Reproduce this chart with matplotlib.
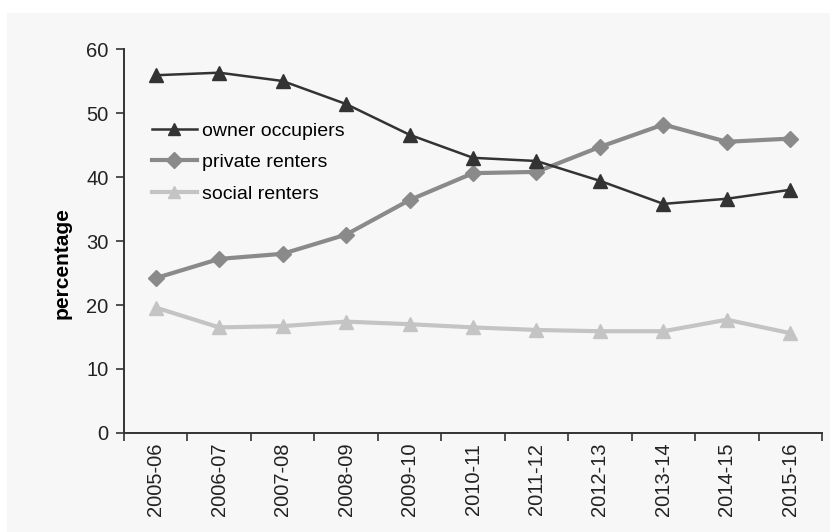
import matplotlib
matplotlib.use("Agg")
import matplotlib.pyplot as plt
from matplotlib.patches import Rectangle

# data
years = ["2005-06", "2006-07", "2007-08", "2008-09", "2009-10", "2010-11",
         "2011-12", "2012-13", "2013-14", "2014-15", "2015-16"]
owner_occupiers = [55.9, 56.3, 55.0, 51.4, 46.6, 43.0, 42.5, 39.4, 35.8, 36.6, 38.0]
private_renters = [24.2, 27.2, 28.0, 31.0, 36.4, 40.6, 40.8, 44.7, 48.2, 45.5, 46.0]
social_renters = [19.6, 16.5, 16.7, 17.4, 17.0, 16.5, 16.1, 15.9, 15.9, 17.7, 15.6]
y_ticks = [0, 10, 20, 30, 40, 50, 60]

plt.rcParams["font.family"] = ["Liberation Sans", "DejaVu Sans"]

fig = plt.figure(figsize=(8.3, 5.32), dpi=100, facecolor="white")
# light grey panel behind the chart
fig.patches.append(Rectangle((7 / 830, 0), 1, 1 - 13 / 532,
                             transform=fig.transFigure, facecolor="#f7f7f7",
                             edgecolor="none", zorder=-10))

ax = fig.add_axes([124 / 830, 1 - 433 / 532, (822 - 124) / 830, (433 - 49) / 532])
ax.set_facecolor("none")

x = list(range(len(years)))

ax.plot(x, social_renters, color="#c4c4c4", linewidth=3, marker="^",
        markersize=10, label="social renters", zorder=2)
ax.plot(x, private_renters, color="#8a8a8a", linewidth=3, marker="D",
        markersize=8, label="private renters", zorder=3)
ax.plot(x, owner_occupiers, color="#333333", linewidth=1.8, marker="^",
        markersize=10, label="owner occupiers", zorder=4)

ax.set_xlim(-0.5, len(years) - 0.5)
ax.set_ylim(0, 60)
ax.set_yticks(y_ticks)
ax.tick_params(axis="y", labelsize=14.5, length=6, width=1.2, color="#333333",
               labelcolor="#222222", pad=5)

# ticks at category boundaries, labels at category centres
ax.set_xticks([i - 0.5 for i in range(len(years) + 1)])
ax.set_xticklabels([])
ax.set_xticks(x, minor=True)
ax.set_xticklabels(years, minor=True, rotation=90, fontsize=14.5, color="#222222")
ax.tick_params(axis="x", which="major", length=6, width=1.2, color="#333333")
ax.tick_params(axis="x", which="minor", length=0, pad=7)

for side in ["top", "right"]:
    ax.spines[side].set_visible(False)
for side in ["left", "bottom"]:
    ax.spines[side].set_color("#333333")
    ax.spines[side].set_linewidth(1.4)

ax.set_ylabel("percentage", fontsize=15, fontweight="bold")
ax.yaxis.set_label_coords(-0.075, 0.443)

handles, labels = ax.get_legend_handles_labels()
leg = ax.legend(handles[::-1], labels[::-1], loc="upper left",
                bbox_to_anchor=(0.04, 0.81), frameon=False, fontsize=14,
                handlelength=2.3, handletextpad=0.25, labelspacing=0.72,
                borderaxespad=0, borderpad=0)
for h in leg.legend_handles:
    h.set_markersize(8)

fig.savefig("out.png", dpi=100, facecolor=fig.get_facecolor())
